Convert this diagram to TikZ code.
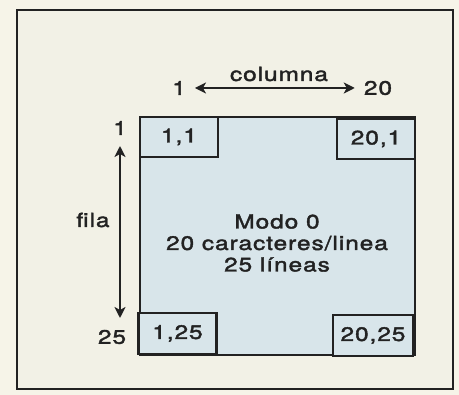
\documentclass[tikz,border=0pt]{standalone}
\usepackage{fontspec}
\setmainfont[FakeStretch=1.25,LetterSpace=5,FakeBold=2]{TeX Gyre Heros}
\usepackage{xcolor}
\usepackage{tikz}
\usetikzlibrary{arrows.meta, positioning}
\definecolor{papel}{HTML}{F6F4E8}
\definecolor{marco}{HTML}{F2F1E6}
\definecolor{pantallaazul}{HTML}{D8E5EA}
\definecolor{tinta}{HTML}{222222}

\tikzset{
  rotulo/.style={font=\fontsize{19.5}{21.5}\selectfont, text=tinta, inner sep=1pt},
  esquina/.style={draw=tinta, line width=2.4pt, fill=pantallaazul, rotulo,
    minimum width=78pt, minimum height=40pt, inner sep=0pt},
  flecha/.style={tinta, line width=2.6pt, {Stealth[length=11pt, width=11pt, inset=3pt]}-{Stealth[length=11pt, width=11pt, inset=3pt]}}
}

\begin{document}
\begin{tikzpicture}[x=1pt, y=-1pt]

  %% Fondo y marco
  \fill[papel] (0,0) rectangle (459,395);
  \useasboundingbox (0,0) rectangle (459,395);
  \draw[tinta, line width=2pt, fill=marco] (17,10) rectangle (453,389);

  %% Pantalla
  \node[draw=tinta, line width=2.4pt, fill=pantallaazul, minimum width=275pt,
    minimum height=238pt, inner sep=0pt] (pantalla) at (277.5,236) {};
  \node[rotulo, align=center] (modo) at (277,243)
    {Modo 0\\20 caracteres/linea\\25 líneas};

  %% Esquinas
  \node[esquina] (e11)   at (179,137)   {1,1};
  \node[esquina] (e201)  at (376,139)   {20,1};
  \node[esquina, minimum height=41pt] (e125)  at (177.5,333.5) {1,25};
  \node[esquina, minimum width=80pt, minimum height=41pt] (e2025) at (373,335.5) {20,25};

  %% Columna
  \node[rotulo] (col1)  at (179,88) {1};
  \node[rotulo] (col20) at (378,88) {20};
  \node[rotulo] (columna) at (279,74) {columna};
  \draw[flecha] ([xshift=8pt]col1.east) -- ([xshift=-8pt]col20.west);

  %% Fila
  \node[rotulo] (fil1)  at (120,128) {1};
  \node[rotulo] (fil25) at (112,337) {25};
  \node[rotulo] (fila)  at (93,220) {fila};
  \coordinate (filarriba) at (120,146);
  \coordinate (filabajo)  at (120,318);
  \draw[flecha] (filarriba) -- (filabajo);

\end{tikzpicture}
\end{document}
